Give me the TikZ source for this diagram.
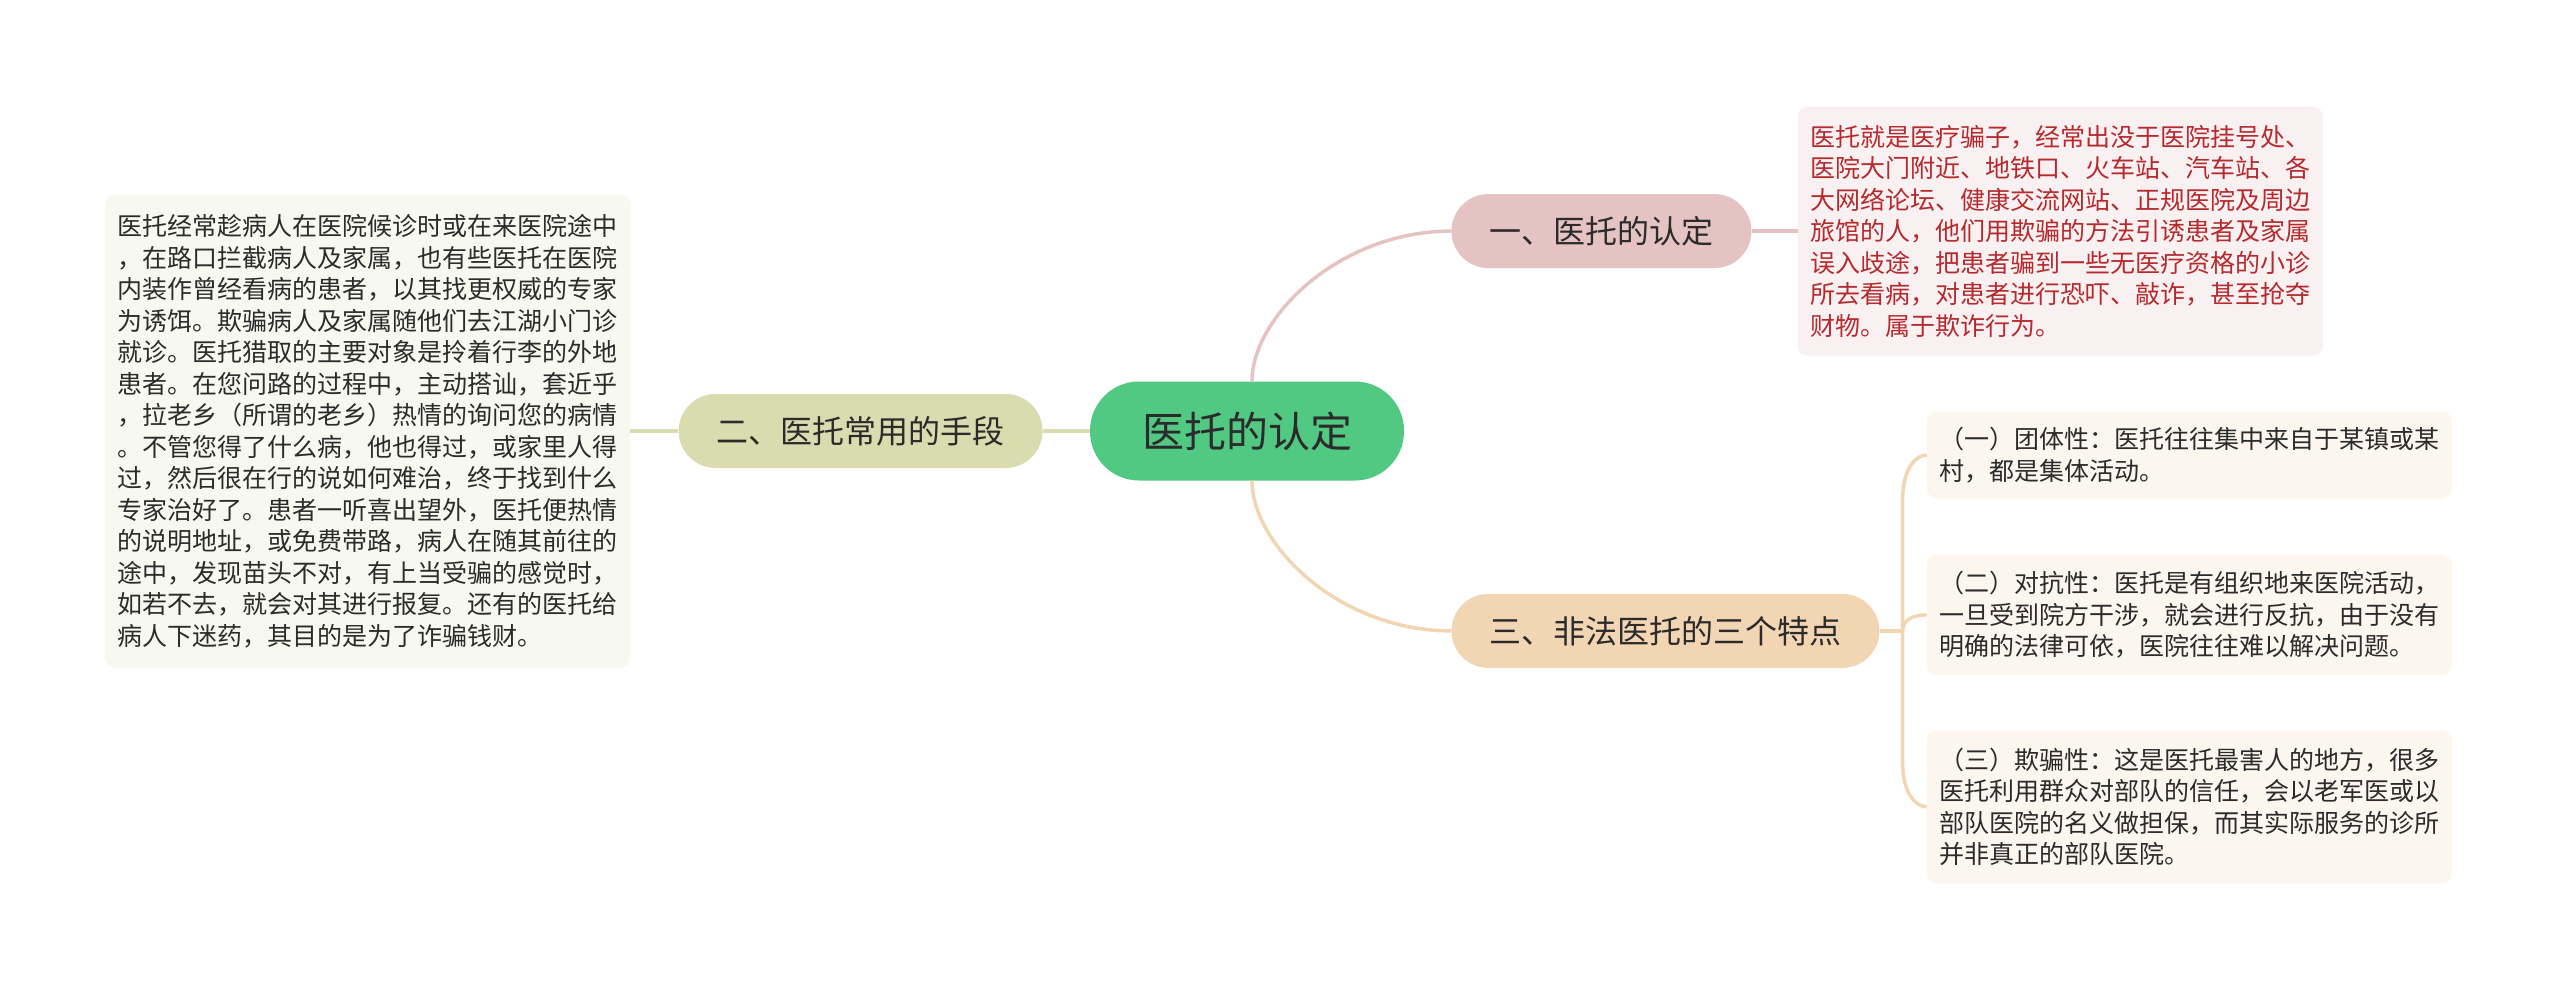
\documentclass[tikz,border=0pt]{standalone}
\usepackage{fontspec}
\newfontfamily\cjk{Noto Sans CJK SC}
\usepackage{xcolor}
\usetikzlibrary{positioning, calc}

\definecolor{rootgreen}{HTML}{52C982}
\definecolor{identpink}{HTML}{E6C3C3}
\definecolor{meansolive}{HTML}{D9DCAF}
\definecolor{featpeach}{HTML}{F2D5B3}
\definecolor{identfill}{HTML}{F9F1F1}
\definecolor{meansfill}{HTML}{F7F8EF}
\definecolor{featfill}{HTML}{FDF6EE}
\definecolor{identred}{HTML}{B52A2E}
\definecolor{darktext}{HTML}{2B2B2B}

\begin{document}
\begin{tikzpicture}[
    x=1pt, y=-1pt,
    rootnode/.style={fill=rootgreen, rounded corners=49pt, minimum height=99pt, inner xsep=52pt, text=darktext, font=\cjk\fontsize{42}{50}\selectfont},
    topic/.style={rounded corners=37pt, minimum height=74pt, inner xsep=38pt, text=darktext, font=\cjk\fontsize{32}{38}\selectfont},
    leaf/.style={rounded corners=10pt, align=left, inner xsep=12.5pt, inner ysep=0pt, text width=500pt, text=darktext, font=\cjk\fontsize{25}{31.5}\selectfont},
    link/.style={line width=3.5pt}
]

\fill[white] (0,0) rectangle (2560,991);

% Centre
\node[rootnode] (root) at (1247,431) {医托的认定};

% Left branch
\node[topic, fill=meansolive, left=47pt of root] (means) {二、医托常用的手段};
\node[leaf, fill=meansfill, minimum height=473pt, left=48pt of means] (meanstext) {
医托经常趁病人在医院候诊时或在来医院途中\\
，在路口拦截病人及家属，也有些医托在医院\\
内装作曾经看病的患者，以其找更权威的专家\\
为诱饵。欺骗病人及家属随他们去江湖小门诊\\
就诊。医托猎取的主要对象是拎着行李的外地\\
患者。在您问路的过程中，主动搭讪，套近乎\\
，拉老乡（所谓的老乡）热情的询问您的病情\\
。不管您得了什么病，他也得过，或家里人得\\
过，然后很在行的说如何难治，终于找到什么\\
专家治好了。患者一听喜出望外，医托便热情\\
的说明地址，或免费带路，病人在随其前往的\\
途中，发现苗头不对，有上当受骗的感觉时，\\
如若不去，就会对其进行报复。还有的医托给\\
病人下迷药，其目的是为了诈骗钱财。};

% Upper right branch
\node[topic, fill=identpink, above right=113pt and 47pt of root] (ident) {一、医托的认定};
\node[leaf, fill=identfill, text=identred, minimum height=249pt, right=46pt of ident] (identtext) {
医托就是医疗骗子，经常出没于医院挂号处、\\
医院大门附近、地铁口、火车站、汽车站、各\\
大网络论坛、健康交流网站、正规医院及周边\\
旅馆的人，他们用欺骗的方法引诱患者及家属\\
误入歧途，把患者骗到一些无医疗资格的小诊\\
所去看病，对患者进行恐吓、敲诈，甚至抢夺\\
财物。属于欺诈行为。};

% Lower right branch
\node[topic, fill=featpeach, below right=113pt and 47pt of root] (feat) {三、非法医托的三个特点};
\node[leaf, fill=featfill, minimum height=120pt, right=47pt of feat, yshift=16pt] (featb) {
（二）对抗性：医托是有组织地来医院活动，\\
一旦受到院方干涉，就会进行反抗，由于没有\\
明确的法律可依，医院往往难以解决问题。};
\node[leaf, fill=featfill, minimum height=87pt, above=56pt of featb] (feata) {
（一）团体性：医托往往集中来自于某镇或某\\
村，都是集体活动。};
\node[leaf, fill=featfill, minimum height=153pt, below=55pt of featb] (featc) {
（三）欺骗性：这是医托最害人的地方，很多\\
医托利用群众对部队的信任，会以老军医或以\\
部队医院的名义做担保，而其实际服务的诊所\\
并非真正的部队医院。};

% Links
\draw[link, draw=meansolive] (root.west) -- (means.east);
\draw[link, draw=meansolive] (means.west) -- (meanstext.east);
\draw[link, draw=identpink] ($(root.north)+(5,0)$) .. controls +(0,-64) and +(-112,0) .. (ident.west);
\draw[link, draw=identpink] (ident.east) -- (identtext.west);
\draw[link, draw=featpeach] ($(root.south)+(5,0)$) .. controls +(0,64) and +(-112,0) .. (feat.west);

% Bracket to the three features
\coordinate (fork) at ($(feat.east)+(23,0)$);
\draw[link, draw=featpeach] (feat.east) -- (fork);
\draw[link, draw=featpeach] (fork) -- ($(fork |- feata.west)+(0,45)$)
    .. controls ($(fork |- feata.west)+(0,12)$) and ($(feata.west)+(-10,0)$) .. (feata.west);
\draw[link, draw=featpeach] (fork) -- ($(fork |- featc.west)+(0,-45)$)
    .. controls ($(fork |- featc.west)+(0,-12)$) and ($(featc.west)+(-10,0)$) .. (featc.west);
\draw[link, draw=featpeach] (fork) .. controls ($(fork)+(0,-12)$) and ($(featb.west)+(-12,0)$) .. (featb.west);

\end{tikzpicture}
\end{document}
